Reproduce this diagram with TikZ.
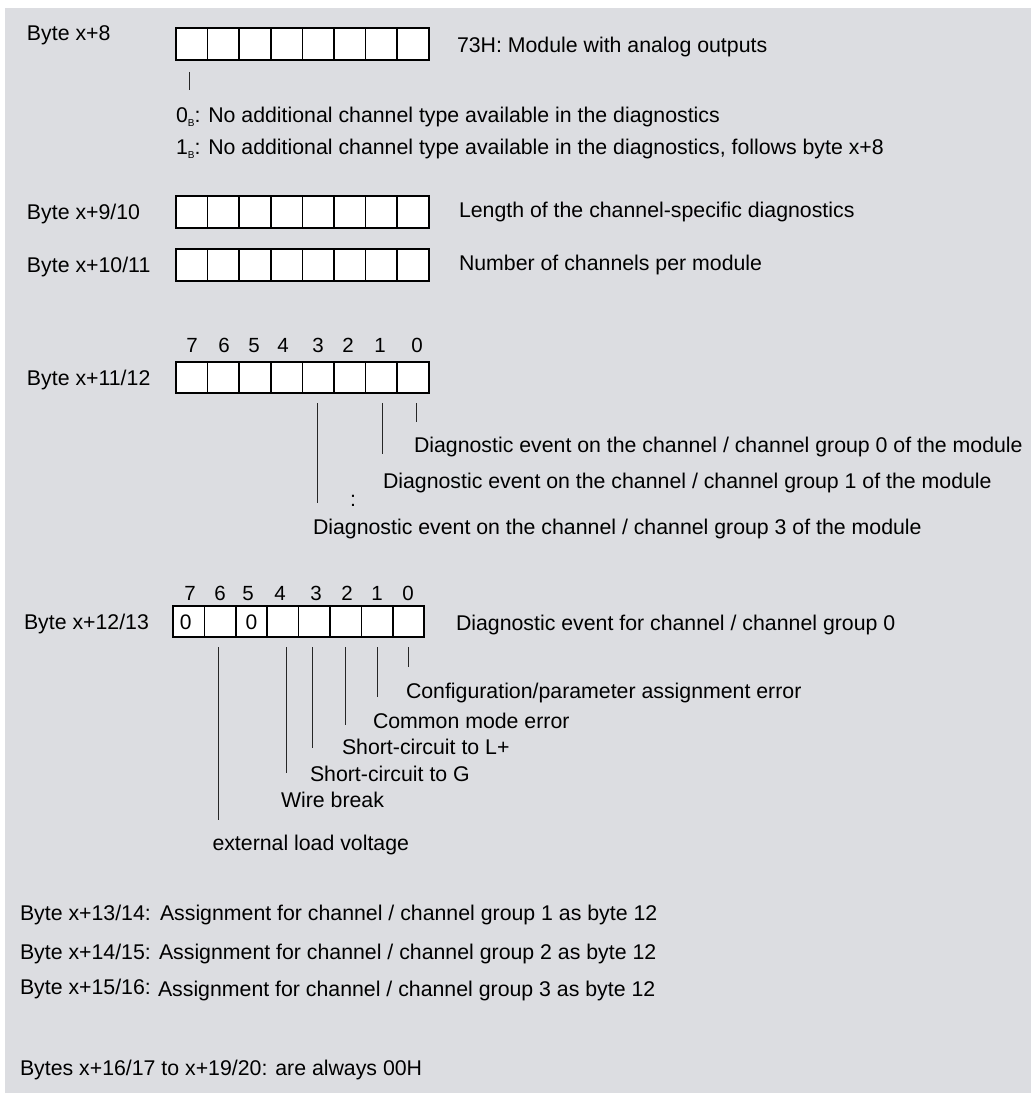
\documentclass[tikz,border=0pt]{standalone}
\usepackage{fontspec}
\setmainfont{Liberation Sans}
\definecolor{bg}{RGB}{220,221,225}
\begin{document}
\begin{tikzpicture}[x=1pt,y=-1pt,
  txt/.style={inner sep=0pt,outer sep=0pt,anchor=base west,font=\fontsize{21.3}{25}\selectfont,text=black},
  bitno/.style={inner sep=0pt,outer sep=0pt,anchor=base,font=\fontsize{20.5}{24}\selectfont,text=black},
  cell/.style={draw=black,fill=white,line width=1.6pt,minimum width=31.6pt,minimum height=31.5pt,inner sep=0pt,outer sep=0pt},
  cellb/.style={cell,minimum width=31.4pt},
  lead/.style={line width=0.9pt,draw=black!85}]
\useasboundingbox (0,0) rectangle (1033,1093);
\fill[bg] (5,8) rectangle (1031,1093);

% ---------- Byte x+8
\node[txt] (l1) at (27,40) {Byte x+8};
\foreach \i in {0,...,7} \node[cell] (a\i) at ({176+31.6*(7-\i)+15.8},44) {};
\node[txt] (t1) at (457,52) {73H: Module with analog outputs};
\draw[lead] (a7.south) ++(-2,12) -- ++(0,18);
\node[txt] (t1a) at (176,122) {0\raisebox{-4pt}{\fontsize{10}{10}\selectfont B}: No additional channel type available in the diagnostics};
\node[txt] (t1b) at (176,154) {1\raisebox{-4pt}{\fontsize{10}{10}\selectfont B}: No additional channel type available in the diagnostics, follows byte x+8};

% ---------- Byte x+9/10
\node[txt] (l2) at (27,219) {Byte x+9/10};
\foreach \i in {0,...,7} \node[cell] (b\i) at ({176+31.6*(7-\i)+15.8},212) {};
\node[txt] (t2) at (459,217) {Length of the channel-specific diagnostics};

% ---------- Byte x+10/11
\node[txt] (l3) at (27,272) {Byte x+10/11};
\foreach \i in {0,...,7} \node[cell] (c\i) at ({176+31.6*(7-\i)+15.8},265) {};
\node[txt] (t3) at (459,270) {Number of channels per module};

% ---------- Byte x+11/12
\node[txt] (l4) at (27,385) {Byte x+11/12};
\foreach \i in {0,...,7} \node[cell] (d\i) at ({176+31.6*(7-\i)+15.8},377.5) {};
\foreach \x/\n in {192/7,224/6,254/5,283/4,318/3,348/2,380/1,417/0}
  \node[bitno] (dn\n) at (\x,352) {\n};
\draw[lead] (d3.south) ++(-1,10) -- ++(0,100) coordinate (e3);
\draw[lead] (d1.south) ++(1.5,10) -- ++(0,51) coordinate (e1);
\draw[lead] (d0.south) ++(3,10) -- ++(0,19) coordinate (e0);
\node[txt] (t4a) at (414,452) {Diagnostic event on the channel / channel group 0 of the module};
\node[txt] (t4b) at (383,488) {Diagnostic event on the channel / channel group 1 of the module};
\node[txt] (t4c) at (350,506) {:};
\node[txt] (t4d) at (313,534) {Diagnostic event on the channel / channel group 3 of the module};

% ---------- Byte x+12/13
\node[txt] (l5) at (24,629) {Byte x+12/13};
\foreach \i in {0,...,7} \node[cellb] (f\i) at ({173+31.4*(7-\i)+15.7},621.5) {};
\foreach \x/\n in {190/7,220/6,248/5,280/4,316/3,347/2,377/1,408/0}
  \node[bitno] (fn\n) at (\x,600) {\n};
\node[bitno,font=\fontsize{21}{25}\selectfont] (z7) at ([xshift=-3pt,yshift=-8pt]f7.center) {0};
\node[bitno,font=\fontsize{21}{25}\selectfont] (z5) at ([xshift=0pt,yshift=-8pt]f5.center) {0};
\node[txt] (t5) at (456,630) {Diagnostic event for channel / channel group 0};
\draw[lead] (f6.south) ++(-2,10) -- ++(0,173);
\draw[lead] (f4.south) ++(4,10) -- ++(0,126);
\draw[lead] (f3.south) ++(-2,10) -- ++(0,101);
\draw[lead] (f2.south) ++(0,10) -- ++(0,78);
\draw[lead] (f1.south) ++(0,10) -- ++(0,50);
\draw[lead] (f0.south) ++(-0.5,10) -- ++(0,20);
\node[txt] (g0) at (406,698) {Configuration/parameter assignment error};
\node[txt] (g1) at (373,728) {Common mode error};
\node[txt] (g2) at (342,754) {Short-circuit to L+};
\node[txt] (g3) at (310,781) {Short-circuit to G};
\node[txt] (g4) at (281,807) {Wire break};
\node[txt] (g5) at (212.5,850) {external load voltage};

% ---------- bottom lines
\node[txt] (h1) at (20,920) {Byte x+13/14:};
\node[txt] (h1t) at (160,920) {Assignment for channel / channel group 1 as byte 12};
\node[txt] (h2) at (20,959) {Byte x+14/15:};
\node[txt] (h2t) at (159,959) {Assignment for channel / channel group 2 as byte 12};
\node[txt] (h3) at (20,994) {Byte x+15/16:};
\node[txt] (h3t) at (158,996) {Assignment for channel / channel group 3 as byte 12};
\node[txt] (h4) at (20,1075) {Bytes x+16/17 to x+19/20: are always 00H};
\end{tikzpicture}
\end{document}
